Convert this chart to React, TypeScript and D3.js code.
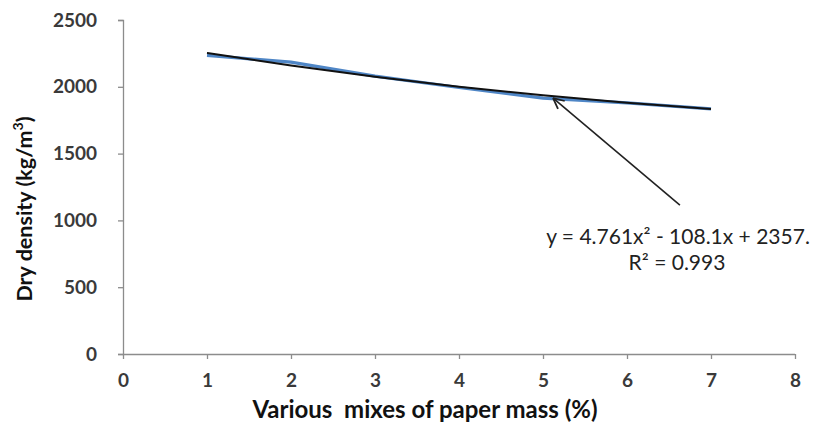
import React, { useEffect, useRef } from "react";
import * as d3 from "d3";

const W = 815;
const H = 433;
const MARGIN = { top: 20, right: 20, bottom: 79, left: 123 };

// paper mass (%) and measured dry density
const mixes = [1, 2, 3, 4, 5, 6, 7];
const density = [2235, 2185, 2080, 1995, 1915, 1880, 1835];
// polynomial trendline values
const trend = [2254, 2160, 2076, 2001, 1936, 1880, 1834];

const xTicks = [0, 1, 2, 3, 4, 5, 6, 7, 8];
const yTicks = [0, 500, 1000, 1500, 2000, 2500];

const EQUATION = "y = 4.761x² - 108.1x + 2357.";
const R2 = "R² = 0.993";

const FONT = "Lato, 'Open Sans', sans-serif";

export default function App() {
  const svgRef = useRef<SVGSVGElement | null>(null);

  useEffect(() => {
    const svg = d3.select(svgRef.current);
    svg.selectAll("*").remove();

    const innerH = H - MARGIN.top - MARGIN.bottom;

    const x = d3.scaleLinear().domain([0, 8]).range([0, 672]);
    const y = d3.scaleLinear().domain([0, 2500]).range([innerH, 0]);

    const g = svg
      .append("g")
      .attr("transform", `translate(${MARGIN.left},${MARGIN.top})`);

    // ── Axes ──────────────────────────────────────────
    const yAxis = g
      .append("g")
      .call(
        d3
          .axisLeft(y)
          .tickValues(yTicks)
          .tickFormat(d3.format("d"))
          .tickSize(5)
          .tickPadding(21)
      );
    const xAxis = g
      .append("g")
      .attr("transform", `translate(0,${innerH})`)
      .call(
        d3
          .axisBottom(x)
          .tickValues(xTicks)
          .tickFormat(d3.format("d"))
          .tickSize(5)
          .tickPadding(15)
      );

    [yAxis, xAxis].forEach((a) => {
      a.select(".domain").attr("stroke", "#8c8c8c").attr("stroke-width", 1.3);
      a.selectAll(".tick line").attr("stroke", "#8c8c8c").attr("stroke-width", 1.3);
      a.selectAll(".tick text")
        .attr("font-family", FONT)
        .attr("font-size", 19)
        .attr("font-weight", 700)
        .attr("fill", "#3a3a3a");
    });
    xAxis.selectAll(".domain").attr("d", `M0.5,0V0.5H${x(8)}V0`);

    // ── Data line (blue) ─────────────────────────────
    const pts = mixes.map((m, i) => [m, density[i]] as [number, number]);
    const line = d3
      .line<[number, number]>()
      .x((d) => x(d[0]))
      .y((d) => y(d[1]));
    g.append("path")
      .attr("d", line(pts))
      .attr("fill", "none")
      .attr("stroke", "#4f86c6")
      .attr("stroke-width", 3.2);

    // ── Trendline (black) ────────────────────────────
    const tpts = mixes.map((m, i) => [m, trend[i]] as [number, number]);
    g.append("path")
      .attr("d", line.curve(d3.curveNatural)(tpts))
      .attr("fill", "none")
      .attr("stroke", "#111")
      .attr("stroke-width", 2);

    // ── Arrow annotation ─────────────────────────────
    const tip: [number, number] = [x(5.12), y(1916)];
    const tail: [number, number] = [x(6.63), y(1115)];
    g.append("line")
      .attr("x1", tail[0])
      .attr("y1", tail[1])
      .attr("x2", tip[0])
      .attr("y2", tip[1])
      .attr("stroke", "#222")
      .attr("stroke-width", 1.6);
    const ang = Math.atan2(tail[1] - tip[1], tail[0] - tip[0]);
    const head = 12;
    [-0.45, 0.45].forEach((da) => {
      g.append("line")
        .attr("x1", tip[0])
        .attr("y1", tip[1])
        .attr("x2", tip[0] + head * Math.cos(ang + da))
        .attr("y2", tip[1] + head * Math.sin(ang + da))
        .attr("stroke", "#222")
        .attr("stroke-width", 1.8);
    });

    // ── Equation labels ──────────────────────────────
    svg
      .append("text")
      .attr("x", 678)
      .attr("y", 244)
      .attr("text-anchor", "middle")
      .attr("font-family", FONT)
      .attr("font-size", 21)
      .attr("fill", "#222")
      .text(EQUATION);
    svg
      .append("text")
      .attr("x", 677)
      .attr("y", 270)
      .attr("text-anchor", "middle")
      .attr("font-family", FONT)
      .attr("font-size", 21)
      .attr("fill", "#222")
      .text(R2);

    // ── Axis titles ──────────────────────────────────
    svg
      .append("text")
      .attr("x", 425)
      .attr("y", 418)
      .attr("text-anchor", "middle")
      .attr("font-family", FONT)
      .attr("font-size", 24)
      .attr("font-weight", 700)
      .attr("fill", "#111")
      .style("white-space", "pre")
      .text("Various  mixes of paper mass (%)");

    const yt = svg
      .append("text")
      .attr("transform", `translate(32,209) rotate(-90)`)
      .attr("text-anchor", "middle")
      .attr("font-family", FONT)
      .attr("font-size", 21.5)
      .attr("font-weight", 700)
      .attr("fill", "#111");
    yt.append("tspan").text("Dry density (kg/m");
    yt.append("tspan").attr("dy", -9).attr("font-size", 14).text("3");
    yt.append("tspan").attr("dy", 9).text(")");
  }, []);

  return (
    <div style={{ position: "absolute", left: 0, top: 0 }}>
      <svg ref={svgRef} width={W} height={H} style={{ display: "block", background: "#fff" }} />
    </div>
  );
}
